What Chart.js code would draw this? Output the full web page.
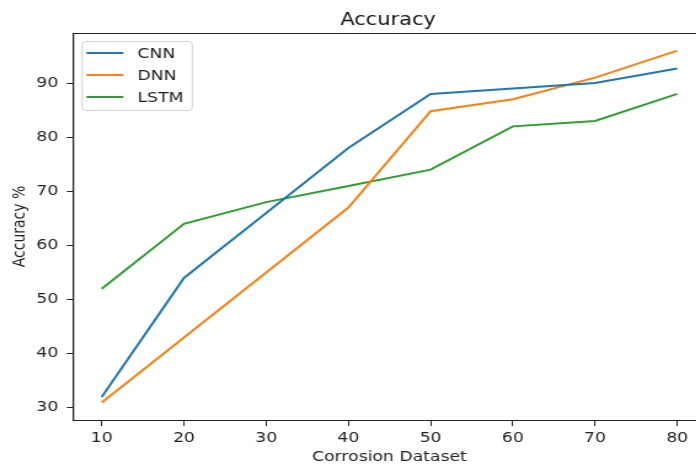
<!DOCTYPE html>
<html>
<head>
<meta charset="utf-8">
<script src="https://cdn.jsdelivr.net/npm/chart.js@4/dist/chart.umd.min.js"></script>
<style>
  html, body { margin: 0; padding: 0; background: #fff; overflow: hidden; }
  #wrap { width: 631px; height: 468px; transform: scaleX(1.23); transform-origin: 0 0; }
</style>
</head>
<body>
<div id="wrap"><canvas id="c" width="631" height="468"></canvas></div>
<script>
const xValues = [10, 20, 30, 40, 50, 60, 70, 80];
const cnn  = [32, 54, 66, 78, 88, 89, 90, 92.7];
const dnn  = [31, 43, 55, 67, 84.8, 87, 91, 96];
const lstm = [52, 64, 68, 71, 74, 82, 83, 88];
const seriesNames = ['CNN', 'DNN', 'LSTM'];
const seriesColors = ['#1f77b4', '#ff7f0e', '#2ca02c'];
const xTicks = [10, 20, 30, 40, 50, 60, 70, 80];
const yTicks = [30, 40, 50, 60, 70, 80, 90];

const FONT = "'DejaVu Sans', sans-serif";
const toPts = arr => xValues.map((x, i) => ({x: x, y: arr[i]}));
const seriesData = [cnn, dnn, lstm];

const framePlugin = {
  id: 'frame',
  afterDraw(chart) {
    const ctx = chart.ctx, a = chart.chartArea;
    ctx.save();
    ctx.strokeStyle = '#222';
    ctx.lineWidth = 1;
    ctx.beginPath();
    ctx.moveTo(a.left + 0.5, a.bottom);
    ctx.lineTo(a.left + 0.5, a.top + 0.5);
    ctx.lineTo(a.right + 10, a.top + 0.5);
    ctx.stroke();
    ctx.restore();
  }
};

const legendPlugin = {
  id: 'mplLegend',
  afterDraw(chart) {
    const ctx = chart.ctx, a = chart.chartArea;
    const x0 = a.left + 7.5, y0 = a.top + 8.5, w = 89.5, h = 69, r = 3;
    ctx.save();
    ctx.fillStyle = 'rgba(255,255,255,0.8)';
    ctx.strokeStyle = '#d0d0d0';
    ctx.lineWidth = 1;
    ctx.beginPath();
    ctx.moveTo(x0 + r, y0);
    ctx.lineTo(x0 + w - r, y0);
    ctx.arcTo(x0 + w, y0, x0 + w, y0 + r, r);
    ctx.lineTo(x0 + w, y0 + h - r);
    ctx.arcTo(x0 + w, y0 + h, x0 + w - r, y0 + h, r);
    ctx.lineTo(x0 + r, y0 + h);
    ctx.arcTo(x0, y0 + h, x0, y0 + h - r, r);
    ctx.lineTo(x0, y0 + r);
    ctx.arcTo(x0, y0, x0 + r, y0, r);
    ctx.closePath();
    ctx.fill();
    ctx.stroke();
    chart.data.datasets.forEach((ds, i) => {
      const yy = y0 + 11.5 + i * 22;
      ctx.strokeStyle = ds.borderColor;
      ctx.lineWidth = 2;
      ctx.beginPath();
      ctx.moveTo(x0 + 3.5, yy);
      ctx.lineTo(x0 + 33.5, yy);
      ctx.stroke();
      ctx.fillStyle = '#222';
      ctx.font = '14px ' + FONT;
      ctx.textBaseline = 'middle';
      ctx.textAlign = 'left';
      ctx.fillText(ds.label, x0 + 45, yy + 1);
    });
    ctx.restore();
  }
};

new Chart(document.getElementById('c'), {
  type: 'line',
  data: {
    datasets: seriesNames.map((n, i) => ({
      label: n,
      data: toPts(seriesData[i]),
      borderColor: seriesColors[i],
      backgroundColor: seriesColors[i],
      borderWidth: 2,
      pointRadius: 0,
      tension: 0,
      fill: false
    }))
  },
  options: {
    responsive: false,
    animation: false,
    events: [],
    layout: { padding: { left: 0, right: 0, top: 0, bottom: 0 } },
    plugins: {
      legend: { display: false },
      tooltip: { enabled: false },
      title: {
        display: true,
        text: 'Accuracy',
        color: '#111',
        font: { family: FONT, size: 17, weight: 'normal' },
        padding: { top: 10, bottom: 2.6 }
      }
    },
    scales: {
      x: {
        type: 'linear',
        min: 6.5,
        max: 92.03,
        afterBuildTicks: s => { s.ticks = xTicks.map(v => ({value: v})); },
        afterFit: s => { s.height = 48; },
        grid: { drawOnChartArea: false, tickLength: 6, tickColor: '#222', tickWidth: 1 },
        border: { display: true, color: '#222', width: 1 },
        ticks: { color: '#222', font: { family: FONT, size: 14 }, padding: 4, maxRotation: 0 },
        title: {
          display: false
        }
      },
      y: {
        type: 'linear',
        min: 27.75,
        max: 99.25,
        afterBuildTicks: s => { s.ticks = yTicks.map(v => ({value: v})); },
        afterFit: s => { s.width = 59.3; },
        grid: { drawOnChartArea: false, tickLength: 5, tickColor: '#222', tickWidth: 1 },
        border: { display: true, color: '#222', width: 1 },
        ticks: { color: '#222', font: { family: FONT, size: 14 }, padding: 7 },
        title: {
          display: true,
          text: 'Accuracy %',
          color: '#222',
          font: { family: FONT, size: 14 },
          padding: { top: 8, bottom: 0 }
        }
      }
    }
  },
  plugins: [framePlugin, legendPlugin, {
    id: 'xTitle',
    afterDraw(chart) {
      const ctx = chart.ctx, a = chart.chartArea;
      const xs = chart.scales.x;
      const cx = (xs.getPixelForValue(6.5) + xs.getPixelForValue(83.5)) / 2;
      ctx.save();
      ctx.fillStyle = '#222';
      ctx.font = '14px ' + FONT;
      ctx.textAlign = 'center';
      ctx.textBaseline = 'middle';
      ctx.fillText('Corrosion Dataset', cx, chart.height - 10.5);
      ctx.restore();
    }
  }]
});
</script>
</body>
</html>
